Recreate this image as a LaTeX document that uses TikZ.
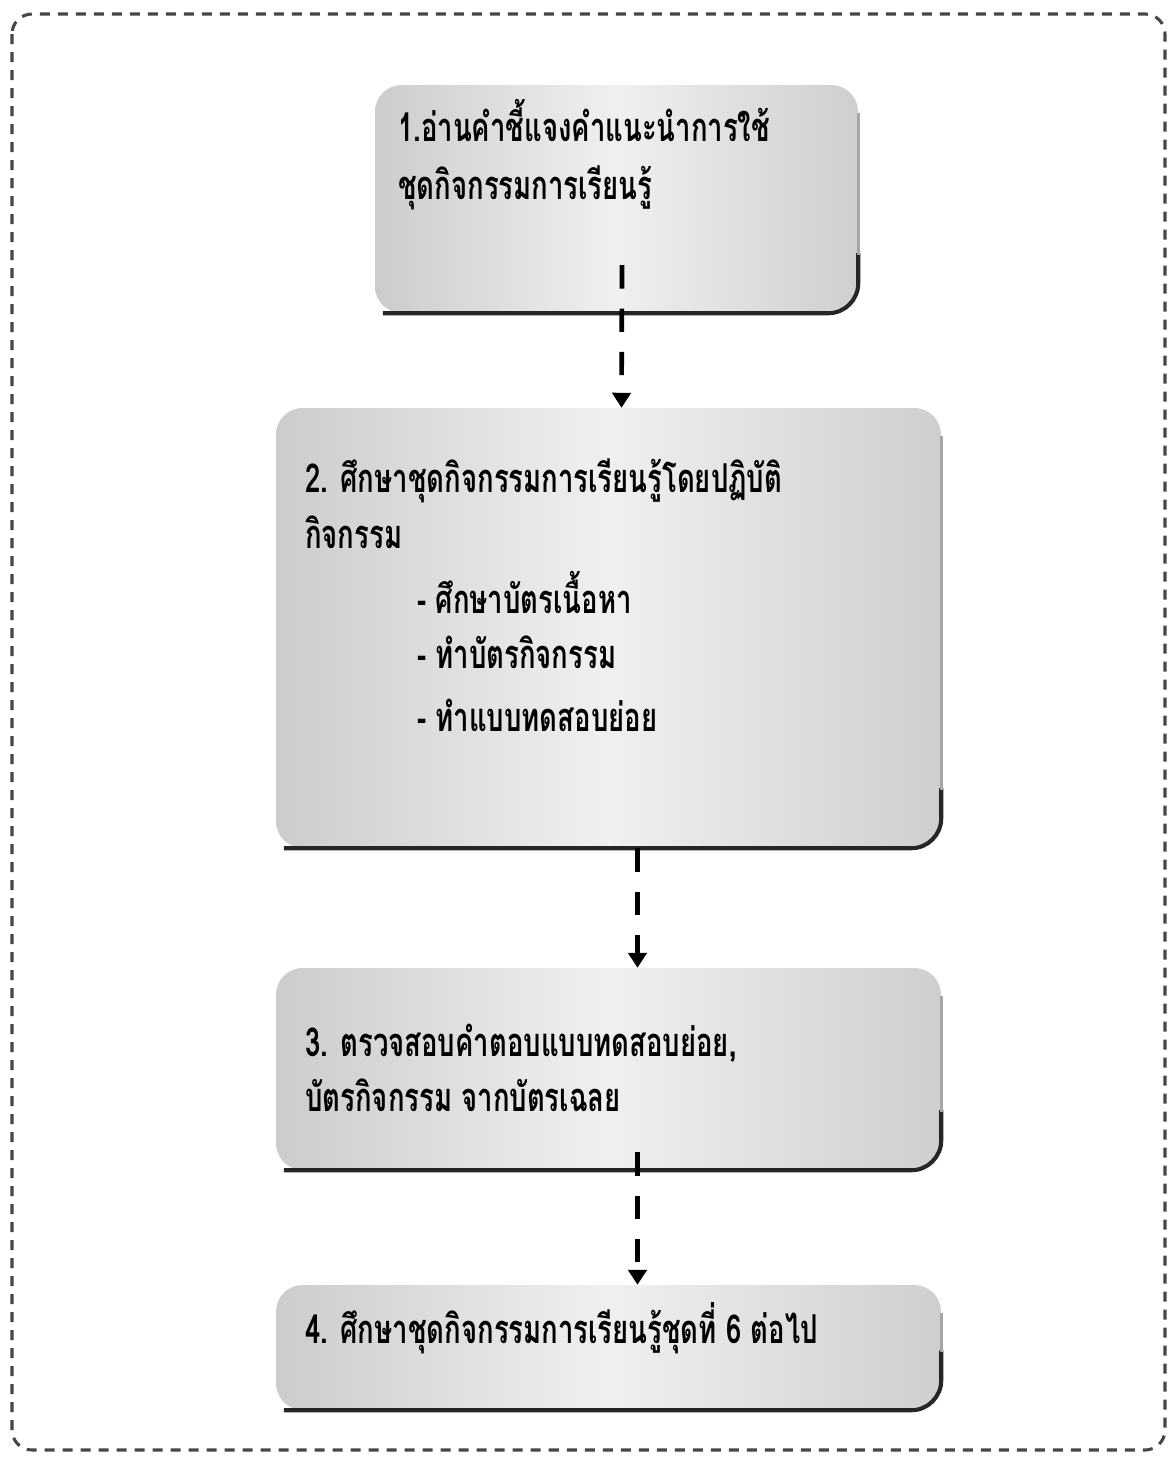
\documentclass[tikz,border=0pt]{standalone}
\usepackage{fontspec}
\usetikzlibrary{arrows.meta,fit,calc}
\newfontfamily\thaifont[Script=Thai]{Loma}
\tikzset{
 boxfill/.style={inner sep=0pt, rounded corners=0.8cm, left color=gray!40, right color=gray!38, middle color=gray!12, draw=none},
 thtext/.style={anchor=base west, inner sep=0pt, font=\thaifont\bfseries\fontsize{34}{40}\selectfont},
 bottomline/.style={line width=3.5pt, black!85, rounded corners=0.9cm},
 sideline/.style={line width=2.5pt, gray!70},
 flow/.style={line width=4pt, dash pattern=on 0.7cm off 0.6cm, -{Triangle[length=0.45cm,width=0.55cm]}},
 frame/.style={line width=2.6pt, gray!55!black, dash pattern=on 0.3cm off 0.24cm, rounded corners=0.6cm}
}
\newcommand{\thl}[1]{\scalebox{0.69}[1]{#1}}
\begin{document}
\begin{tikzpicture}[x=0.03cm,y=-0.03cm]
\useasboundingbox (0,0) rectangle (1172,1459);
\draw[frame] (12,14) rectangle (1165,1450);
% boxes
\node[boxfill, fit={(375,85) (858,313)}] (b1) {};
\node[boxfill, fit={(276,408) (941,848)}] (b2) {};
\node[boxfill, fit={(276,968) (941,1170)}] (b3) {};
\node[boxfill, fit={(276,1285) (941,1410)}] (b4) {};
% shadow edges
\foreach \b in {b1,b2,b3,b4}{
 \draw[bottomline] ($(\b.south west)+(8,0)$) -- (\b.south east) -- ($(\b.south east)+(0,-60)$);
 \draw[sideline] ($(\b.south east)+(0,-58)$) -- ($(\b.north east)+(0,28)$);
}
% text
\node[thtext] (t11) at (398,141) {\thl{1.อ่านคำชี้แจงคำแนะนำการใช้}};
\node[thtext] (t12) at (398,199) {\thl{ชุดกิจกรรมการเรียนรู้}};
\node[thtext] (t21) at (305,492) {\thl{2. ศึกษาชุดกิจกรรมการเรียนรู้โดยปฏิบัติ}};
\node[thtext] (t22) at (305,548) {\thl{กิจกรรม}};
\node[thtext] (t23) at (417,613) {\thl{- ศึกษาบัตรเนื้อหา}};
\node[thtext] (t24) at (417,668) {\thl{- ทำบัตรกิจกรรม}};
\node[thtext] (t25) at (417,731) {\thl{- ทำแบบทดสอบย่อย}};
\node[thtext] (t31) at (305,1056) {\thl{3. ตรวจสอบคำตอบแบบทดสอบย่อย,}};
\node[thtext] (t32) at (305,1111) {\thl{บัตรกิจกรรม จากบัตรเฉลย}};
\node[thtext] (t41) at (305,1343) {\thl{4. ศึกษาชุดกิจกรรมการเรียนรู้ชุดที่ 6 ต่อไป}};
% connectors
\draw[flow] ($(b1.south)+(5.5,-48)$) -- ($(b2.north)+(13,0)$);
\draw[flow] ($(b2.south)+(29,0)$) -- ($(b3.north)+(29,0)$);
\draw[flow] ($(b3.south)+(29,-18)$) -- ($(b4.north)+(29,0)$);
\end{tikzpicture}
\end{document}
